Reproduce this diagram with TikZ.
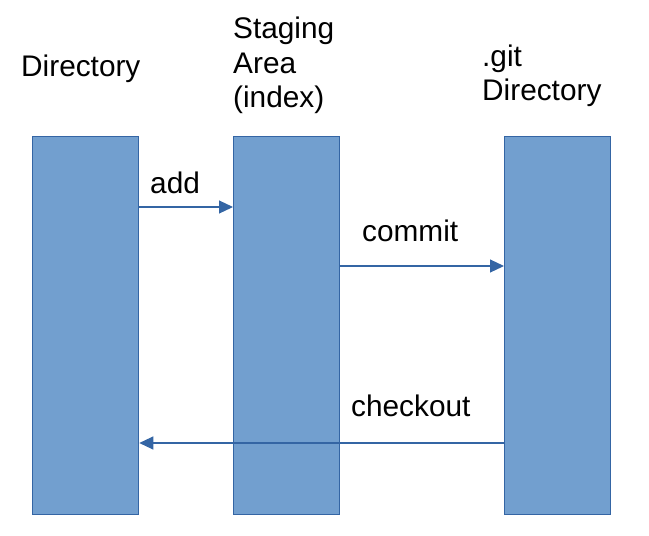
\documentclass[tikz,border=0pt]{standalone}
\usepackage{fontspec}
\setmainfont{Liberation Sans}
\usetikzlibrary{arrows.meta}
\definecolor{barfill}{HTML}{729FCF}
\definecolor{barline}{HTML}{3465A4}
\begin{document}
\begin{tikzpicture}[x=1pt,y=-1pt,
  bar/.style={draw=barline,fill=barfill,line width=1.3pt,minimum width=106pt,minimum height=378pt,inner sep=0pt,anchor=north west},
  lbl/.style={anchor=base west,inner sep=0pt,font=\fontsize{29.8}{35}\selectfont,text=black},
  conn/.style={draw=barline,line width=1.2pt,-{Triangle[length=14pt,width=13pt]}}]
\useasboundingbox (0,0) rectangle (649,536);
\node[bar] (wd) at (32,136) {};
\node[bar] (st) at (233,136) {};
\node[bar] (gd) at (504,136) {};
\node[lbl] (t1) at (21,76) {Directory};
\node[lbl] (t2) at (233,38) {Staging};
\node[lbl] (t3) at (233,73) {Area};
\node[lbl] (t4) at (233,107) {(index)};
\node[lbl] (t5) at (482,66) {.git};
\node[lbl] (t6) at (482,100) {Directory};
\coordinate (a1) at (wd.east |- 0,207);
\coordinate (a2) at (st.west |- 0,207);
\coordinate (c1) at (st.east |- 0,266);
\coordinate (c2) at (gd.west |- 0,266);
\coordinate (k1) at (gd.west |- 0,443);
\coordinate (k2) at (wd.east |- 0,443);
\draw[conn] (a1) -- (a2);
\draw[conn] (c1) -- (c2);
\draw[conn] (k1) -- (k2);
\node[lbl] (la) at (150,193) {add};
\node[lbl] (lc) at (362,241) {commit};
\node[lbl] (lk) at (351,416) {checkout};
\end{tikzpicture}
\end{document}
